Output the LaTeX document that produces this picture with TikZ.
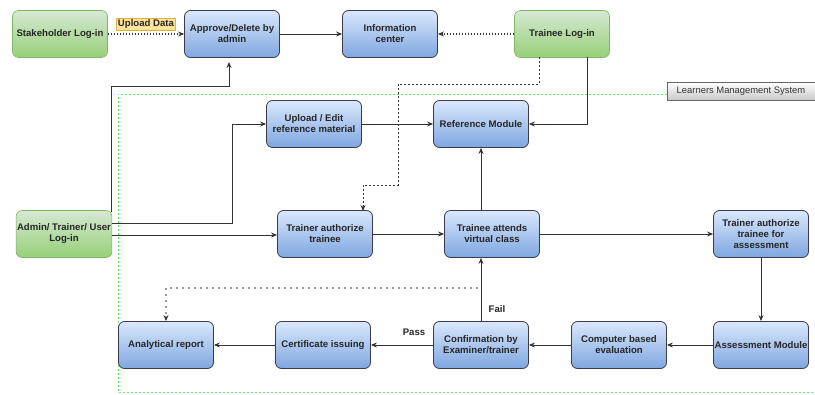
\documentclass[tikz,border=0pt]{standalone}
\usepackage{fontspec}
\setmainfont{Liberation Sans}
\usetikzlibrary{arrows.meta,positioning,calc}
\definecolor{bluetop}{HTML}{DAE8FC}
\definecolor{bluebot}{HTML}{7EA6E0}
\definecolor{greentop}{HTML}{D5E8D4}
\definecolor{greenbot}{HTML}{97D077}
\definecolor{greenborder}{HTML}{82B366}
\definecolor{lineclr}{HTML}{333333}
\definecolor{boxborder}{HTML}{3A3A4A}
\definecolor{lmsgreen}{HTML}{66EE66}
\definecolor{yellowfill}{HTML}{FFE599}
\definecolor{yellowborder}{HTML}{E0B040}
\tikzset{
  x=1pt,y=-1pt,
  bluebox/.style={draw=boxborder,line width=0.8pt,rounded corners=6pt,top color=bluetop,bottom color=bluebot,
    minimum width=95pt,minimum height=47pt,align=center,font=\fontsize{9.6}{11}\selectfont\bfseries,text=black!85,inner sep=1pt},
  greenbox/.style={draw=greenborder,line width=0.6pt,rounded corners=6pt,top color=greentop,bottom color=greenbot,
    minimum width=95pt,minimum height=47pt,align=center,font=\fontsize{9.6}{11}\selectfont\bfseries,text=black!85,inner sep=1pt},
  conn/.style={draw=lineclr,line width=0.9pt,-{Stealth[length=6pt,width=5pt]}},
  dotconn/.style={conn,line width=1.1pt,dash pattern=on 1.5pt off 1.5pt},
  bigdot/.style={draw=lineclr,line width=1.6pt,line cap=round,dash pattern=on 0pt off 6pt,-{Stealth[length=6pt,width=5pt]}},
  lbl/.style={font=\fontsize{9.6}{11}\selectfont\bfseries,text=black!85}
}
\begin{document}
\begin{tikzpicture}
\useasboundingbox (0,0) rectangle (815,395);
% LMS area
\draw[lmsgreen,line width=0.8pt,dash pattern=on 2pt off 2pt] (667,94) -- (118,94) -- (118,392) -- (815,392);
\node[draw=gray!80!black,line width=0.6pt,top color=white,bottom color=black!22,minimum width=148pt,minimum height=18pt,
  font=\fontsize{9.4}{10}\selectfont,text=black!80,inner sep=1pt] (lms) at (741,91.5) {Learners Management System};

\node[greenbox] (stake) at (60,34) {Stakeholder Log-in};
\node[bluebox] (approve) at (232,34) {Approve/Delete by\\admin};
\node[bluebox] (info) at (390,34) {Information\\center};
\node[greenbox] (tlogin) at (562,34) {Trainee Log-in};
\node[greenbox] (admin) at (64,234) {Admin/ Trainer/ User\\Log-in};
\node[bluebox] (upload) at (314,124) {Upload / Edit\\reference material};
\node[bluebox] (refmod) at (481,124) {Reference Module};
\node[bluebox] (tauth) at (325,234) {Trainer authorize\\trainee};
\node[bluebox] (attend) at (492,234) {Trainee attends\\virtual class};
\node[bluebox] (tassess) at (761,234) {Trainer authorize\\trainee for\\assessment};
\node[bluebox] (analyt) at (166,345) {Analytical report};
\node[bluebox] (cert) at (323,345) {Certificate issuing};
\node[bluebox] (confirm) at (481,345) {Confirmation by\\Examiner/trainer};
\node[bluebox] (cbe) at (619,345) {Computer based\\evaluation};
\node[bluebox] (amod) at (761,345) {Assessment Module};

% top row
\draw[dotconn] (stake) -- (approve);
\node[draw=yellowborder,fill=yellowfill,line width=0.5pt,inner sep=1.5pt,
  font=\fontsize{9.6}{11}\selectfont\bfseries,text=black!85] (upl) at (146,24) {Upload Data};
\draw[conn] (approve) -- (info);
\draw[dotconn] (tlogin) -- (info);

% trainee login to trainer authorize (dashed)
\coordinate (tl1) at (539,57);
\draw[conn,dash pattern=on 2pt off 2pt] (tl1) -- (539,84) -- (398,84) -- (398,185) -- (363,185) -- (363,211);
% trainee login to reference module
\coordinate (tl2) at (587,57);
\draw[conn] (tl2) -- (587,124) -- (refmod.east);

% admin connections
\coordinate (ad1) at (111,212);
\coordinate (apb) at (229,62);
\draw[conn] (ad1) -- (111,86) -- (229,86) -- (apb);
\draw[conn] (112,223) -- (232,223) -- (232,124) -- (upload.west);
\draw[conn] (112,235) -- (tauth.west |- 0,235);

\draw[conn] (upload) -- (refmod);
\draw[conn] (tauth) -- (attend);
\draw[conn] (attend.north -| refmod) -- (refmod);
\draw[conn] (attend) -- (tassess);
\draw[conn] (tassess) -- (amod);
\draw[conn] (amod) -- (cbe);
\draw[conn] (cbe) -- (confirm);
\draw[conn] (confirm) -- (cert);
\draw[conn] (cert) -- (analyt);
\node[lbl] (pass) at (414,332) {Pass};
\draw[conn] (confirm.north) -- (confirm.north |- attend.south);
\node[lbl] (fail) at (497,309) {Fail};
\coordinate (fd) at (477,288);
\draw[bigdot] (fd) -- (166,288) -- (analyt.north -| 166,0);
\end{tikzpicture}
\end{document}
